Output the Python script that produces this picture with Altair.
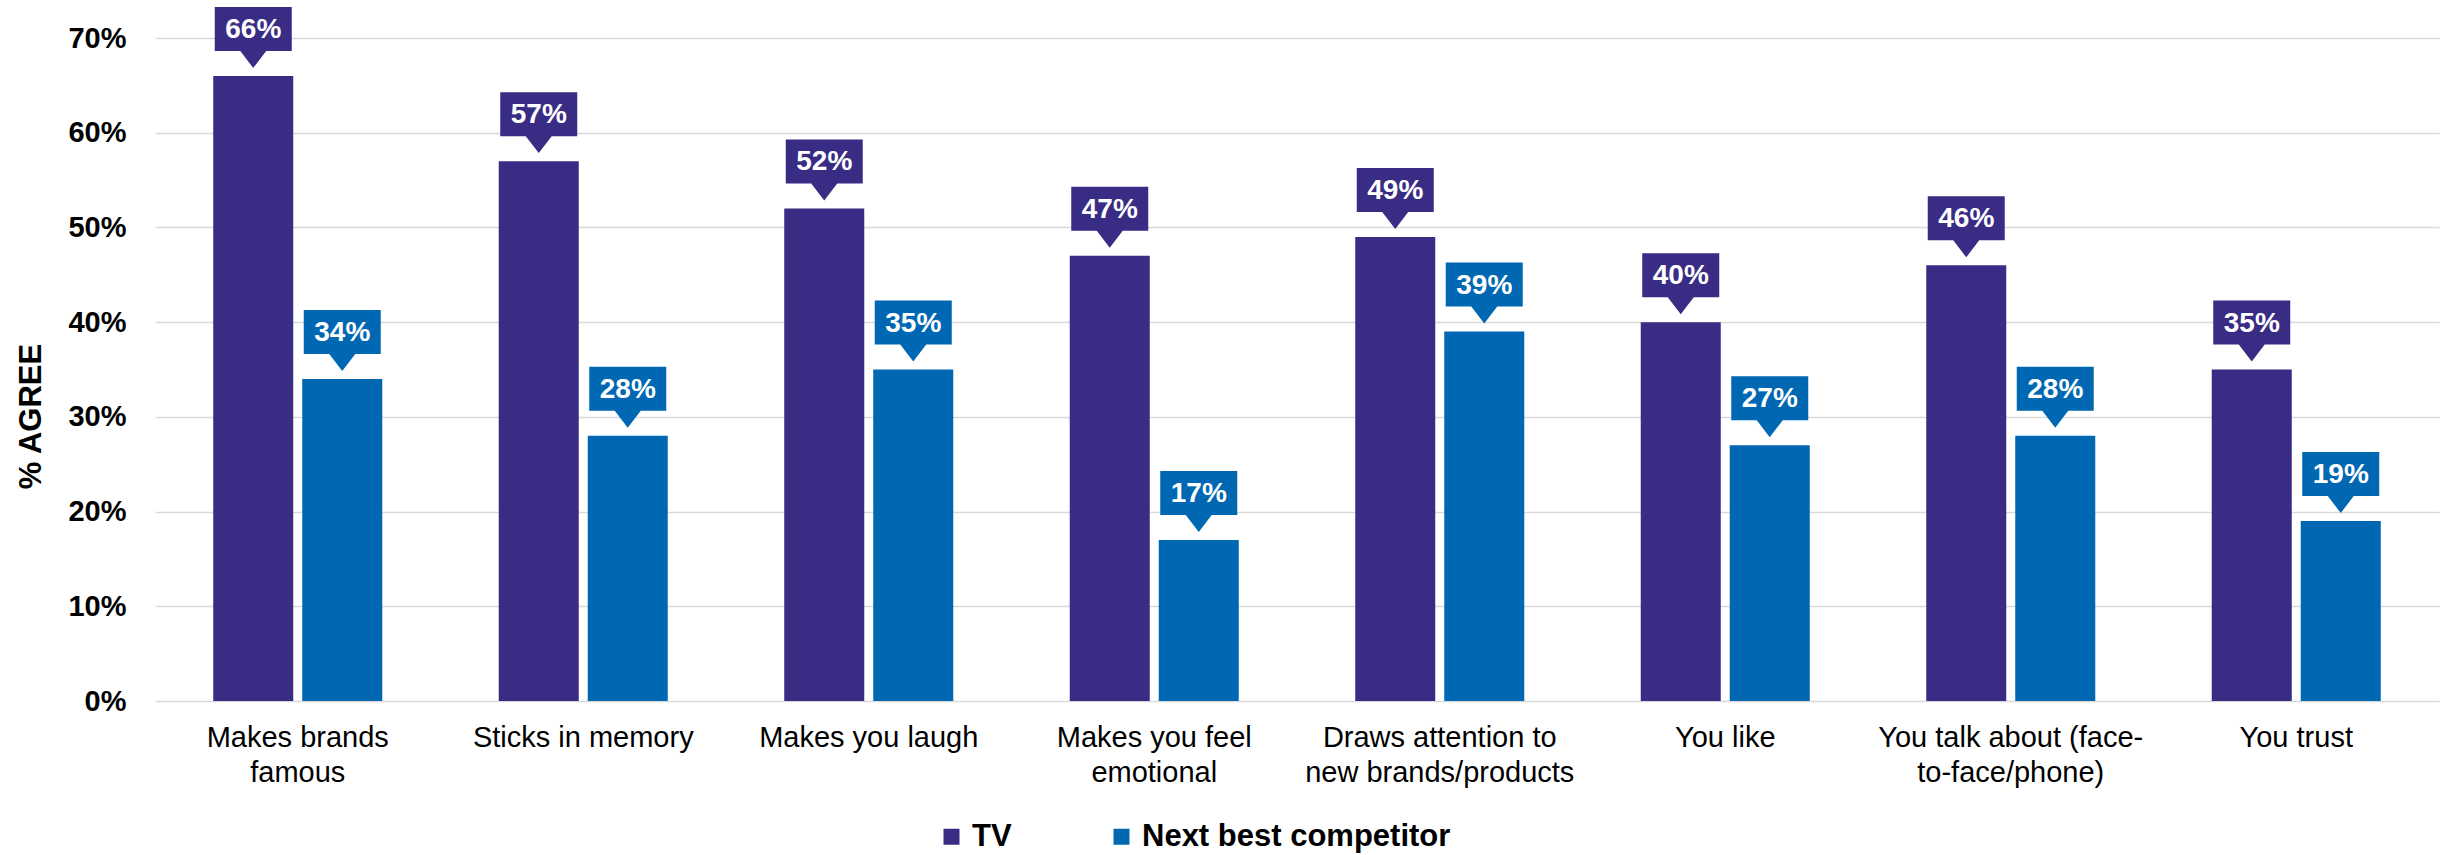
import altair as alt
import pandas as pd

categories = [
    "Makes brands\nfamous",
    "Sticks in memory",
    "Makes you laugh",
    "Makes you feel\nemotional",
    "Draws attention to\nnew brands/products",
    "You like",
    "You talk about (face-\nto-face/phone)",
    "You trust",
]
series = ["TV", "Next best competitor"]
tv_values = [66, 57, 52, 47, 49, 40, 46, 35]
competitor_values = [34, 28, 35, 17, 39, 27, 28, 19]
colors = ["#392C85", "#0068B3"]
y_ticks = [0, 10, 20, 30, 40, 50, 60, 70]

rows = []
for c, v in zip(categories, tv_values):
    rows.append({"category": c, "series": series[0], "value": v})
for c, v in zip(categories, competitor_values):
    rows.append({"category": c, "series": series[1], "value": v})
df = pd.DataFrame(rows)

FONT = "Liberation Sans"
W, H = 2284, 663

x_enc = alt.X(
    "category:N",
    sort=categories,
    scale=alt.Scale(paddingInner=0.408, paddingOuter=0.204),
    axis=alt.Axis(
        title=None,
        labelExpr="split(datum.label, '\\n')",
        labelFontSize=29,
        labelFont=FONT,
        labelColor="black",
        labelAngle=0,
        labelPadding=22,
        labelBaseline="top",
        labelLineHeight=35,
        ticks=False,
        domain=False,
        labelLimit=1000,
    ),
)
xoff_enc = alt.XOffset("series:N", sort=series, scale=alt.Scale(paddingInner=0.101, paddingOuter=0))
y_enc = alt.Y(
    "value:Q",
    scale=alt.Scale(domain=[0, 70], nice=False),
    axis=alt.Axis(
        values=y_ticks,
        labelExpr="datum.value + '%'",
        labelFontSize=29,
        labelFontWeight="bold",
        labelFont=FONT,
        labelColor="black",
        labelPadding=29,
        ticks=False,
        domain=False,
        grid=True,
        gridColor="#D9D9D9",
        gridWidth=1.5,
        title="% AGREE",
        titleFontSize=31,
        titleFont=FONT,
        titleFontWeight="bold",
        titleColor="black",
        titleX=-115,
        titleY=378,
        titleAngle=270,
        titleAlign="center",
        titleBaseline="alphabetic",
    ),
)

base = alt.Chart(df)

bars = base.mark_bar().encode(
    x=x_enc,
    xOffset=xoff_enc,
    y=y_enc,
    color=alt.Color(
        "series:N",
        sort=series,
        scale=alt.Scale(domain=series, range=colors),
        legend=alt.Legend(
            title=None,
            orient="none",
            legendX=781,
            legendY=783,
            direction="horizontal",
            symbolType="square",
            symbolSize=256,
            symbolStrokeWidth=0,
            symbolOpacity=1,
            labelFontSize=31,
            labelFont=FONT,
            labelFontWeight="bold",
            labelColor="black",
            labelOffset=5,
            labelLimit=1000,
            columnPadding=94,
            padding=0,
        ),
    ),
)

callout_path = (
    "M -0.875 -1.568 L 0.875 -1.568 L 0.875 -0.568 L 0.295 -0.568 "
    "L 0 -0.182 L -0.295 -0.568 L -0.875 -0.568 Z"
)

callouts = base.mark_point(
    shape=callout_path, size=7744, filled=True, opacity=1, strokeWidth=0
).encode(
    x=alt.X("category:N", sort=categories),
    xOffset=alt.XOffset("series:N", sort=series),
    y=alt.Y("value:Q"),
    color=alt.Color("series:N", sort=series, scale=alt.Scale(domain=series, range=colors), legend=None),
)

texts = base.transform_calculate(label="datum.value + '%'").mark_text(
    dy=-46, fontSize=28, fontWeight="bold", color="white", font=FONT,
    baseline="middle", align="center",
).encode(
    x=alt.X("category:N", sort=categories),
    xOffset=alt.XOffset("series:N", sort=series),
    y=alt.Y("value:Q"),
    text="label:N",
)

chart = (
    alt.layer(bars, callouts, texts)
    .properties(
        width=W,
        height=H,
        autosize=alt.AutoSizeParams(type="none"),
        padding={"left": 155, "top": 38, "right": 14, "bottom": 154},
        background="white",
    )
    .configure_view(stroke=None)
)

chart.save("out.html", embed_options={"renderer": "svg", "actions": False})
